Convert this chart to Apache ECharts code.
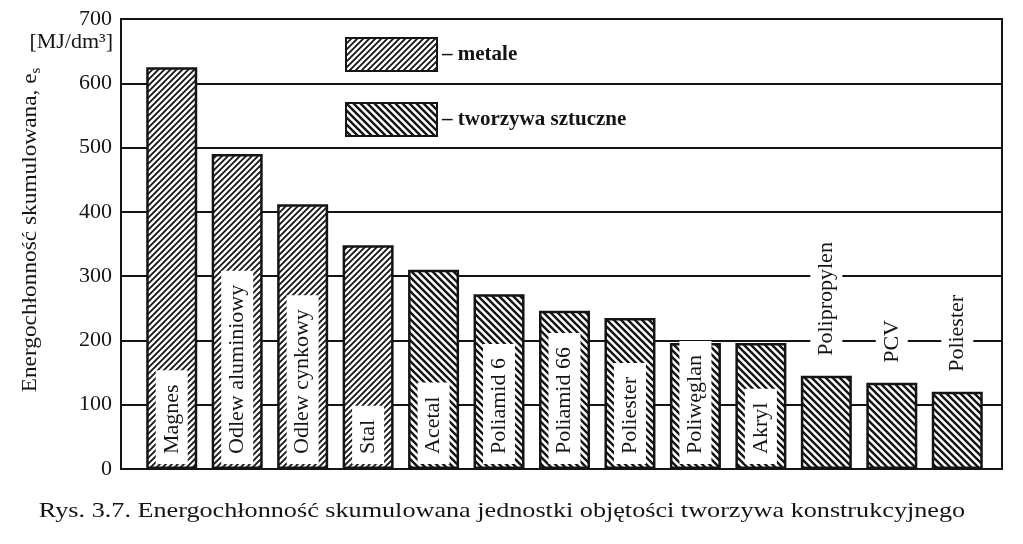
<!DOCTYPE html>
<html>
<head>
<meta charset="utf-8">
<script src="https://cdn.jsdelivr.net/npm/echarts@6/dist/echarts.min.js"></script>
<style>html,body{margin:0;padding:0;background:#fff}#c{width:1023px;height:544px}</style>
</head>
<body>
<div id="c"></div>
<script>
const categories = ['Magnes','Odlew aluminiowy','Odlew cynkowy','Stal','Acetal','Poliamid 6','Poliamid 66','Poliester','Poliwęglan','Akryl','Polipropylen','PCV','Poliester'];
const metalValues = [625, 490, 412, 348, null, null, null, null, null, null, null, null, null];
const plasticValues = [null, null, null, null, 310, 272, 246, 235, 196, 196, 145, 134, 120];
const seriesNames = ['metale', 'tworzywa sztuczne'];
const yTicks = [0, 100, 200, 300, 400, 500, 600, 700];
const yUnit = '[MJ/dm³]';
const yName = 'Energochłonność skumulowana, e';
const caption = 'Rys. 3.7. Energochłonność skumulowana jednostki objętości tworzywa konstrukcyjnego';

const INK = '#141414';
const FONT = '"Liberation Serif", "Times New Roman", serif';

function hatch(size, lw, dir) {
  const c = document.createElement('canvas');
  c.width = c.height = size;
  const g = c.getContext('2d');
  g.fillStyle = '#fff'; g.fillRect(0, 0, size, size);
  g.strokeStyle = INK; g.lineWidth = lw; g.lineCap = 'square';
  g.beginPath();
  if (dir === '/') {
    g.moveTo(-1, 1); g.lineTo(1, -1);
    g.moveTo(0, size); g.lineTo(size, 0);
    g.moveTo(size - 1, size + 1); g.lineTo(size + 1, size - 1);
  } else {
    g.moveTo(0, 0); g.lineTo(size, size);
    g.moveTo(-1, size - 1); g.lineTo(1, size + 1);
    g.moveTo(size - 1, -1); g.lineTo(size + 1, 1);
  }
  g.stroke();
  return { image: c, repeat: 'repeat' };
}
const metalFill = hatch(6, 1.8, '/');
const plasticFill = hatch(7, 2.4, '\\');

const outsideFrom = 10;
function labelFor(i) {
  const base = {
    show: true, rotate: 90, align: 'left', verticalAlign: 'middle',
    fontFamily: FONT, fontSize: 22, color: INK, lineHeight: 24,
    backgroundColor: '#fff', padding: [4, 14, 4, 10],
    formatter: () => categories[i]
  };
  if (i >= outsideFrom) return Object.assign(base, { position: 'top', distance: 14, padding: [4, 4, 4, 6] });
  return Object.assign(base, { position: 'insideBottom', distance: 5 });
}
function buildData(vals) {
  return vals.map((v, i) => v == null ? null : { value: v, label: labelFor(i) });
}

const chart = echarts.init(document.getElementById('c'), null, { renderer: 'canvas' });
const gridTop = 19, gridBottom = 75;
chart.setOption({
  backgroundColor: '#fff',
  animation: false,
  grid: [
    { left: 121, right: 21, top: gridTop, bottom: gridBottom, show: true, borderColor: INK, borderWidth: 2, backgroundColor: 'transparent' },
    { left: 139, right: 33, top: gridTop, bottom: gridBottom }
  ],
  xAxis: [
    { type: 'category', gridIndex: 0, data: categories, show: false },
    { type: 'category', gridIndex: 1, data: categories, show: false }
  ],
  yAxis: [
    {
      type: 'value', gridIndex: 0, min: yTicks[0], max: yTicks[yTicks.length - 1], interval: 100,
      axisLine: { show: true, lineStyle: { color: INK, width: 2 } },
      axisTick: { show: false },
      axisLabel: { fontFamily: FONT, fontSize: 22, color: INK, margin: 9 },
      splitLine: { show: true, lineStyle: { color: INK, width: 2 } }
    },
    { type: 'value', gridIndex: 1, min: yTicks[0], max: yTicks[yTicks.length - 1], interval: 100, show: false, splitLine: { show: false } }
  ],
  legend: {
    orient: 'vertical', left: 345, top: 37, padding: 0, itemWidth: 91, itemHeight: 33, itemGap: 30,
    data: seriesNames,
    icon: 'rect',
    itemStyle: { borderColor: INK, borderWidth: 2 },
    formatter: n => '– ' + n,
    textStyle: { fontFamily: FONT, fontSize: 21, fontWeight: 'bold', color: INK }
  },
  series: [
    {
      name: seriesNames[0], type: 'bar', xAxisIndex: 1, yAxisIndex: 1,
      data: buildData(metalValues), barWidth: 51, barGap: '-100%',
      itemStyle: { color: metalFill, borderColor: INK, borderWidth: 2.5 }
    },
    {
      name: seriesNames[1], type: 'bar', xAxisIndex: 1, yAxisIndex: 1,
      data: buildData(plasticValues), barWidth: 51, barGap: '-100%',
      itemStyle: { color: plasticFill, borderColor: INK, borderWidth: 2.5 }
    }
  ],
  graphic: [
    { type: 'text', x: 113, y: 42, style: { text: yUnit, font: '22px ' + FONT, fill: INK, align: 'right', verticalAlign: 'middle' } },
    {
      type: 'text', x: 30, y: 230, rotation: Math.PI / 2, scaleX: 1.06,
      style: {
        text: yName + '{s|s}', fill: INK, align: 'center', verticalAlign: 'middle',
        fontFamily: FONT, fontSize: 22, lineHeight: 26,
        rich: { s: { fontFamily: FONT, fontSize: 14, lineHeight: 14, verticalAlign: 'bottom', fill: INK } }
      }
    },
    { type: 'text', x: 502, y: 511, scaleX: 1.19, style: { text: caption, font: '22px ' + FONT, fill: INK, align: 'center', verticalAlign: 'middle' } }
  ]
});
</script>
</body>
</html>
